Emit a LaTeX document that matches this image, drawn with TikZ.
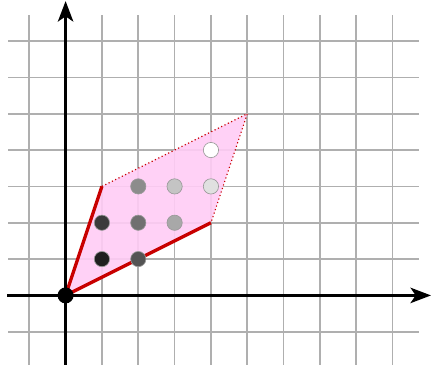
\documentclass[tikz,border=0pt]{standalone}
\usetikzlibrary{arrows.meta}
\definecolor{gridgray}{RGB}{175,175,175}
\definecolor{pinkfill}{RGB}{255,204,245}
\definecolor{edgered}{RGB}{200,0,0}
\begin{document}
\begin{tikzpicture}[
  gridline/.style={draw=gridgray, line width=1.3pt},
  axis/.style={draw=black, line width=2.4pt, -{Stealth[length=16pt,width=12pt,inset=4pt]}},
  edge/.style={draw=edgered, line width=2.6pt},
  dotedge/.style={draw=edgered, line width=0.9pt, dotted},
  pt/.style={circle, minimum size=0.42cm, inner sep=0pt, draw=gray!80, line width=0.5pt}
]
\useasboundingbox (-1.805,-1.888) rectangle (10.055,8.129);
% grid
\foreach \y in {-1,...,7} \draw[gridline] (-1.58,\y) -- (9.72,\y);
\foreach \x in {-1,...,9} \draw[gridline] (\x,-1.95) -- (\x,7.72);
% parallelogram
\coordinate (O) at (0,0);
\coordinate (A) at (1,3);
\coordinate (B) at (4,2);
\coordinate (C) at (5,5);
\fill[pinkfill, opacity=0.9] (O) -- (A) -- (C) -- (B) -- cycle;
\draw[dotedge] (A) -- (C) -- (B);
\draw[edge] (A) -- (O) -- (B);
% axes
\coordinate (xs) at (-1.6,0);
\coordinate (xe) at (10.055,0);
\coordinate (ys) at (0,-1.95);
\coordinate (ye) at (0,8.1);
\draw[axis] (xs) -- (xe);
\draw[axis] (ys) -- (ye);
% points
\node[pt, fill=black!88] (p11) at (1,1) {};
\node[pt, fill=black!67] (p21) at (2,1) {};
\node[pt, fill=black!77] (p12) at (1,2) {};
\node[pt, fill=black!56] (p22) at (2,2) {};
\node[pt, fill=black!34] (p32) at (3,2) {};
\node[pt, fill=black!45] (p23) at (2,3) {};
\node[pt, fill=black!23] (p33) at (3,3) {};
\node[pt, fill=black!12] (p43) at (4,3) {};
\node[pt, fill=white] (p44) at (4,4) {};
\node[circle, fill=black, minimum size=0.44cm, inner sep=0pt] (o) at (O) {};
\end{tikzpicture}
\end{document}
